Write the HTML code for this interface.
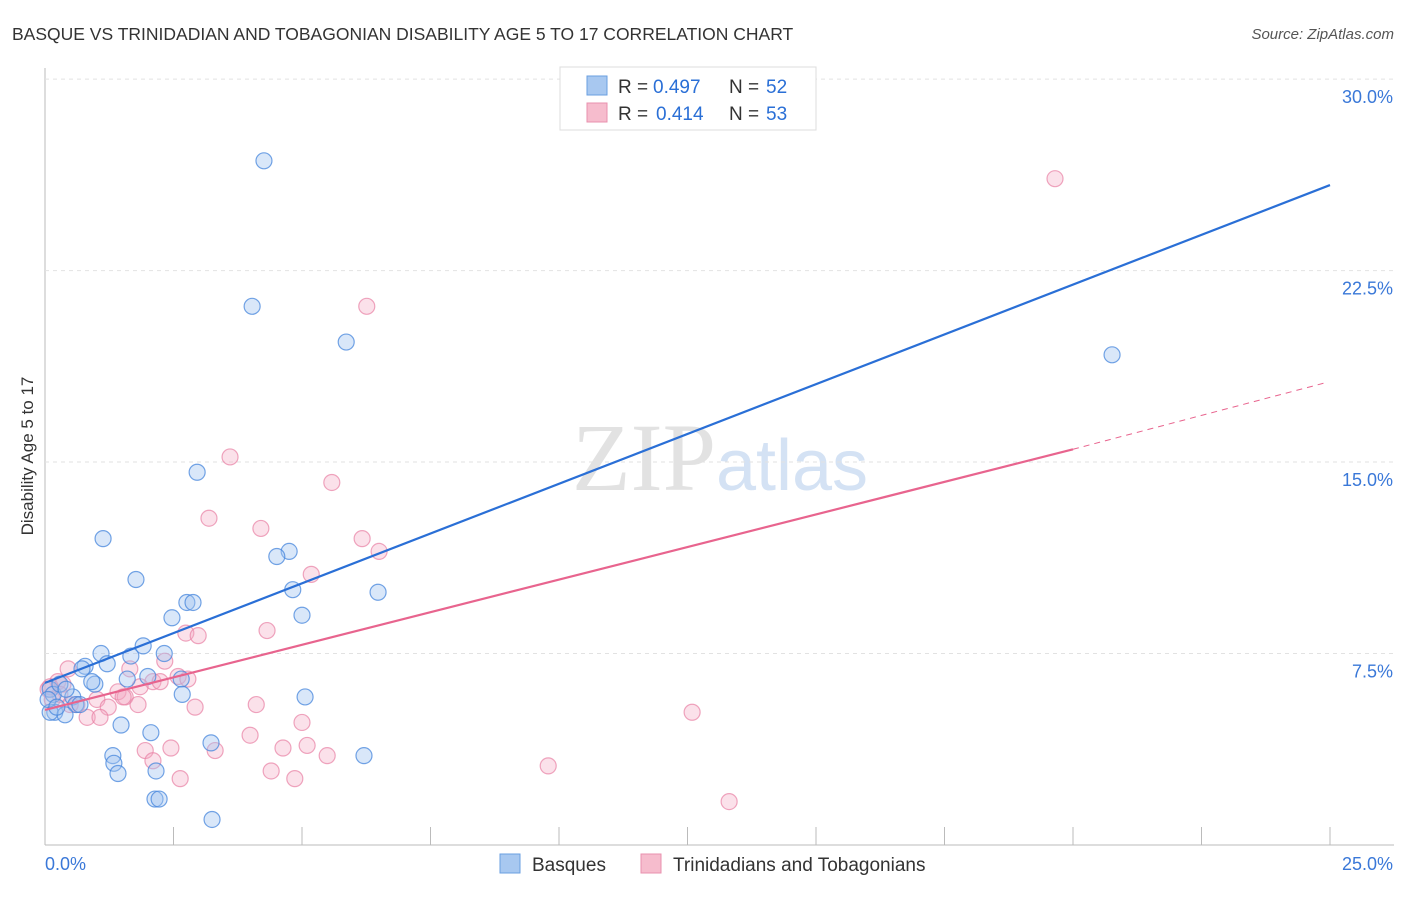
<!DOCTYPE html>
<html><head><meta charset="utf-8"><style>
body{margin:0;background:#fff;font-family:"Liberation Sans",sans-serif}
svg text{font-family:"Liberation Sans",sans-serif}
</style></head><body>
<svg id="chart" width="1406" height="892" xmlns="http://www.w3.org/2000/svg">
<text x="12" y="40" font-size="17.5" fill="#333">BASQUE VS TRINIDADIAN AND TOBAGONIAN DISABILITY AGE 5 TO 17 CORRELATION CHART</text>
<text x="1394" y="39" font-size="15" fill="#555" text-anchor="end" font-style="italic">Source: ZipAtlas.com</text>
<text x="720" y="490" font-size="96" fill="#e6e6e6" text-anchor="middle" font-family="Liberation Serif"><tspan fill="#e2e2e2" font-family="Liberation Serif">ZIP</tspan><tspan fill="#d4e2f4" font-size="72" font-family="Liberation Sans">atlas</tspan></text>
<text transform="translate(33,456) rotate(-90)" font-size="17" fill="#333" text-anchor="middle">Disability Age 5 to 17</text>
<g id="grid"></g><g id="pts"></g><g id="lines"></g>
<g>
<rect x="560" y="67" width="256" height="63" fill="#fff" stroke="#ddd"/>
<rect x="587" y="76" width="20" height="19" fill="#a8c8f0" stroke="#6a9fe0"/>
<rect x="587" y="103" width="20" height="19" fill="#f6bccd" stroke="#e890ae"/>
<text x="618" y="93" font-size="19" fill="#333">R =</text>
<text x="653" y="93" font-size="19" fill="#2a6fd6">0.497</text>
<text x="729" y="93" font-size="19" fill="#333">N =</text>
<text x="766" y="93" font-size="19" fill="#2a6fd6">52</text>
<text x="618" y="120" font-size="19" fill="#333">R =</text>
<text x="656" y="120" font-size="19" fill="#2a6fd6">0.414</text>
<text x="729" y="120" font-size="19" fill="#333">N =</text>
<text x="766" y="120" font-size="19" fill="#2a6fd6">53</text>
</g>
<g>
<rect x="500" y="854" width="20" height="19" fill="#a8c8f0" stroke="#6a9fe0"/>
<text x="532" y="871" font-size="19" fill="#333">Basques</text>
<rect x="641" y="854" width="20" height="19" fill="#f6bccd" stroke="#e890ae"/>
<text x="673" y="871" font-size="19" fill="#333">Trinidadians and Tobagonians</text>
</g>
</svg>
<script>
const xTicks=[0,2.5,5,7.5,10,12.5,15,17.5,20,22.5,25];
const yTicks=[7.5,15,22.5,30];
const yTickLabels=["7.5%","15.0%","22.5%","30.0%"];
const basqueX=[4.26,4.03,5.86,20.76,2.96,1.13,4.75,4.51,1.77,4.82,6.48,2.76,2.88,2.47,5.0,1.09,1.91,2.32,1.67,1.21,0.78,0.72,0.97,1.60,2.0,2.65,2.67,5.06,0.10,0.16,0.54,0.60,0.19,0.10,0.39,1.48,2.06,1.32,1.34,3.23,6.206,1.42,2.16,2.14,2.22,3.25,0.68,0.29,0.91,0.06,0.23,0.41];
const basqueY=[26.8,21.1,19.7,19.2,14.6,12.0,11.5,11.3,10.4,10.0,9.9,9.5,9.5,8.9,9.0,7.5,7.8,7.5,7.4,7.1,7.0,6.9,6.3,6.5,6.6,6.5,5.9,5.8,6.1,5.9,5.8,5.5,5.2,5.2,5.1,4.7,4.4,3.5,3.2,4.0,3.5,2.8,2.9,1.8,1.8,1.0,5.5,6.3,6.4,5.7,5.4,6.1];
const triniX=[19.65,6.26,3.60,5.58,3.19,4.20,6.17,6.50,5.18,4.32,2.74,2.98,2.33,0.45,1.65,0.25,0.35,2.59,2.78,2.10,2.24,1.42,1.56,1.81,0.62,1.01,1.23,2.92,4.11,5.00,0.82,1.07,12.59,3.99,4.63,5.10,5.49,3.31,2.45,1.95,2.10,4.40,4.86,2.63,9.79,13.31,0.06,0.14,0.29,1.52,1.85,0.10,0.49];
const triniY=[26.1,21.1,15.2,14.2,12.8,12.4,12.0,11.5,10.6,8.4,8.3,8.2,7.2,6.9,6.9,6.4,6.3,6.6,6.5,6.4,6.4,6.0,5.8,5.5,5.5,5.7,5.4,5.4,5.5,4.8,5.0,5.0,5.2,4.3,3.8,3.9,3.5,3.7,3.8,3.7,3.3,2.9,2.6,2.6,3.1,1.7,6.1,5.7,5.9,5.8,6.2,6.2,5.5];
const X=v=>45+v*51.4, Y=v=>845-v*25.53;
const NS="http://www.w3.org/2000/svg";
function mk(t,a,p){const e=document.createElementNS(NS,t);for(const k in a)e.setAttribute(k,a[k]);p.appendChild(e);return e;}
const grid=document.getElementById('grid');
let ax=mk('line',{x1:45,y1:68,x2:45,y2:845,stroke:'#bbb'},grid);


let bx=mk('line',{x1:45,y1:845,x2:1394,y2:845,stroke:'#bbb'},grid);


yTicks.forEach((t,i)=>{
 let g=mk('line',{x1:45,y1:Y(t),x2:1394,y2:Y(t),stroke:'#e2e2e2','stroke-dasharray':'4,4'},grid);
 
 
 let tx=mk('text',{x:1393,y:Y(t)+24,'font-size':18,fill:'#3a78d8','text-anchor':'end'},grid);
 tx.textContent=yTickLabels[i];
 
 
});
xTicks.forEach(t=>{
 let l=mk('line',{x1:X(t),y1:827,x2:X(t),y2:845,stroke:'#bbb'},grid);
 
 
});
let l0=mk('text',{x:45,y:870,'font-size':18,fill:'#3a78d8'},grid);l0.textContent='0.0%';


let l1=mk('text',{x:1393,y:870,'font-size':18,fill:'#3a78d8','text-anchor':'end'},grid);l1.textContent='25.0%';


const pts=document.getElementById('pts');
triniX.forEach((v,i)=>{let c=mk('circle',{cx:X(v),cy:Y(triniY[i]),r:8,fill:'rgba(244,170,194,0.35)',stroke:'rgba(232,128,164,0.7)','stroke-width':1.2},pts);
 
 });
basqueX.forEach((v,i)=>{let c=mk('circle',{cx:X(v),cy:Y(basqueY[i]),r:8,fill:'rgba(160,196,240,0.4)',stroke:'rgba(70,134,220,0.75)','stroke-width':1.2},pts);
 
 });
const lines=document.getElementById('lines');
let bl=mk('line',{x1:X(0),y1:Y(6.35),x2:X(25),y2:Y(25.85),stroke:'#2a6fd6','stroke-width':2.2},lines);


let pl=mk('line',{x1:X(0),y1:Y(5.29),x2:X(20),y2:Y(15.5),stroke:'#e8648e','stroke-width':2.2},lines);


let pd=mk('line',{x1:X(20),y1:Y(15.5),x2:X(24.9),y2:Y(18.1),stroke:'#e8648e','stroke-width':1,'stroke-dasharray':'6,5'},lines);


</script>
</body></html>
